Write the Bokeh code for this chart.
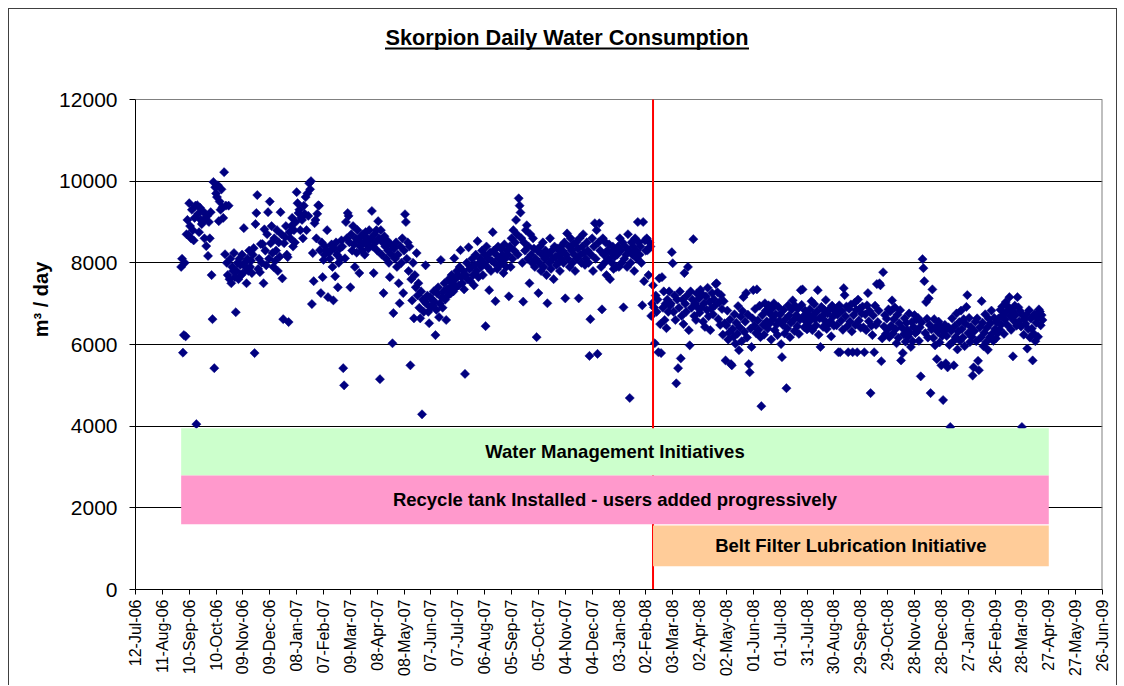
from math import pi
import pandas as pd
from bokeh.plotting import figure
from bokeh.layouts import column
from bokeh.models import ColumnDataSource, FixedTicker, Range1d
from bokeh.core.properties import value
from bokeh.embed import file_html
from bokeh.resources import INLINE

FONT = "Liberation Sans"

# ---------------- daily water consumption (m3/day), one list per month ----------------
sep06 = [7900, 8100, 5800, 6230, 8000, 6200, 8700, 9050, 8680, 9460, 8900, 8600, 9300, 8800, 8550, 9100, 9400, 4050, 9410, 9200, 8750, 9350, 9050, 8950, 9000, 9250, 8600, 9100, 8410, 9150]
oct06 = [8170, 9000, 8600, 9240, 7700, 6620, 9980, 5420, 9850, 9700, 9610, 9900, 9020, 9500, 9300, 9800, 9360, 9100, 10220, 8210, 9400, 8000, 7700, 9400, 7600, 8100, 7500, 7900, 7800, 8240, 7650]
nov06 = [6790, 7800, 8000, 7600, 8100, 7950, 7700, 8200, 7750, 8850, 8000, 7900, 7500, 8100, 7800, 8300, 7900, 8050, 7750, 8200, 8360, 5790, 8950, 9220, 9660, 7850, 8100, 7770, 8460, 8000]
dec06 = [8460, 7500, 8820, 8300, 7940, 8700, 9240, 8100, 9500, 8480, 8900, 8240, 7900, 8600, 8050, 8300, 8800, 7800, 8500, 8150, 9240, 8700, 7620, 6620, 8480, 8630, 8900, 8200, 8140, 6550, 8750]
jan07 = [8600, 8900, 9100, 8400, 8800, 8500, 9000, 9730, 9460, 9220, 9300, 8800, 9100, 9050, 8600, 9400, 9200, 9610, 8800, 9700, 9150, 9950, 9800, 10000, 6990, 8240, 7550, 8970, 9050, 8600, 9200]
feb07 = [9410, 9400, 8310, 7260, 8500, 7650, 8070, 8200, 8400, 8300, 8800, 7160, 8250, 8100, 8310, 8450, 7900, 7080, 8350, 7670, 8500, 8200, 7400, 8000, 8350, 8100, 8550, 8400]
mar07 = [5420, 5000, 8110, 9000, 8600, 9220, 9150, 8500, 7400, 8700, 8300, 8900, 8450, 7900, 8600, 8250, 8800, 8550, 7750, 8400, 8650, 8300, 8700, 8500, 8200, 8750, 8450, 8600, 8350, 8800, 8550]
apr07 = [8600, 9270, 8400, 7750, 8700, 8500, 8800, 8300, 9020, 8600, 5150, 8800, 8200, 8500, 7260, 8650, 8400, 8100, 8550, 8300, 8000, 7650, 8450, 8200, 6030, 6770, 8350, 8100, 8500, 7900]
may07 = [8200, 7500, 7010, 8400, 8000, 8600, 7260, 8300, 9190, 9000, 8100, 8500, 7800, 8400, 5490, 7600, 7080, 8000, 6640, 7700, 7400, 8240, 7200, 7500, 6900, 6640, 7300, 4290, 7100, 6800, 7050]
jun07 = [7940, 7000, 7200, 6800, 6520, 7160, 6910, 7100, 6950, 7300, 7050, 6230, 6850, 7250, 7400, 6670, 7000, 8070, 7150, 6900, 7300, 7500, 7100, 6600, 7350, 7200, 7600, 7400, 7250, 7700]
jul07 = [7500, 7300, 8110, 7600, 7400, 7800, 7700, 7450, 7900, 8310, 7650, 7500, 7800, 7350, 5280, 7700, 8000, 7600, 8380, 7850, 7550, 7900, 8100, 7700, 7450, 7950, 8200, 7800, 8530, 7650, 8000]
aug07 = [8100, 7900, 8300, 7700, 8000, 8200, 6450, 8400, 7900, 8100, 7330, 8250, 7800, 8050, 8750, 8300, 8000, 7060, 8200, 7850, 8400, 8100, 7950, 8350, 8000, 8200, 7750, 8450, 8100, 7900, 8300]
sep07 = [8200, 7180, 8400, 7900, 8600, 8100, 8800, 8300, 8500, 9050, 8700, 8200, 9580, 9400, 9230, 8600, 8000, 7050, 8500, 8300, 8800, 8920, 8100, 8400, 7500, 8700, 8200, 8000, 8600, 8350]
oct07 = [7900, 8100, 6180, 8300, 7260, 8000, 8400, 7800, 8200, 8500, 7900, 8100, 8300, 7700, 7010, 8200, 8000, 8600, 7850, 8300, 8100, 7600, 8400, 8150, 7950, 8350, 8000, 8200, 7800, 8400, 8100]
nov07 = [8300, 8000, 8500, 7130, 8200, 8720, 8100, 8400, 7900, 8600, 8300, 8000, 8450, 8200, 7800, 8500, 8100, 8350, 7130, 8600, 8200, 8000, 8400, 8700, 8250, 7950, 8100, 8500, 8300, 8000]
dec07 = [5720, 6620, 8200, 8600, 7800, 8400, 8970, 8100, 8800, 5770, 8500, 8970, 8300, 7900, 6860, 8600, 8200, 8000, 8500, 7700, 8300, 8100, 8450, 7600, 8250, 8000, 8400, 7850, 8150, 8300, 7900]
jan08 = [8200, 8400, 7900, 8600, 8300, 8000, 8500, 6910, 8100, 8400, 8200, 7900, 8700, 8300, 4690, 8000, 8500, 8200, 8400, 7800, 8600, 8300, 8100, 9000, 8500, 8200, 8400, 8000, 6960, 9000, 7550]
feb08 = [8550, 8300, 8600, 8310, 7700, 8500, 8400, 6700, 7000, 7450, 6910, 6030, 7200, 6800, 7100, 5810, 7620, 6500, 5790, 7650, 6900, 7300, 6600, 7000, 6400, 7100, 6800, 7300, 6950]
mar08 = [7000, 8260, 7990, 6800, 7200, 6600, 5050, 7100, 5420, 6900, 7300, 5660, 6700, 7100, 6500, 7750, 7000, 6800, 7200, 7900, 6350, 5980, 7300, 6900, 7100, 8580, 6700, 7000, 6600, 7250, 6900]
apr08 = [7120, 6780, 7340, 6910, 7230, 6560, 7010, 6430, 7180, 6850, 7390, 6690, 7050, 6350, 6880, 7260, 6740, 7110, 6950, 7480, 7500, 7280, 6620, 7030, 6480, 7210, 6870, 6240, 7060, 6520]
may08 = [5610, 6470, 6830, 6120, 6290, 6610, 5520, 5490, 6380, 6190, 6740, 6020, 6530, 6260, 6940, 5860, 6420, 6680, 6080, 6820, 7160, 6310, 6560, 7260, 6170, 6730, 5520, 5320, 6390, 5940, 6640]
jun08 = [7330, 6460, 6870, 6280, 7350, 6590, 6360, 6950, 6180, 4490, 6720, 6480, 6240, 7010, 6830, 6570, 6390, 6960, 6510, 6750, 6120, 6880, 6620, 7010, 6350, 6740, 6490, 6230, 6920, 6580]
jul08 = [6740, 6010, 5690, 6480, 6850, 6270, 6620, 4930, 6390, 6960, 6710, 6180, 6530, 6860, 7080, 6600, 6330, 6940, 6720, 6450, 6880, 6260, 6610, 7330, 6970, 7350, 6690, 6420, 6830, 6560, 6370]
aug08 = [6720, 6440, 6860, 6590, 7060, 6350, 6730, 6990, 6620, 6470, 6810, 7330, 6240, 6640, 5940, 6920, 6700, 6430, 6850, 6580, 7090, 6380, 6760, 6510, 6870, 6570, 6200, 6950, 6680, 6460, 6820]
sep08 = [6840, 6470, 6730, 5810, 6960, 5810, 6580, 6820, 6360, 7380, 7210, 6690, 6930, 6450, 5810, 6870, 6560, 6980, 6320, 5810, 6720, 7020, 6480, 6850, 5810, 7100, 6590, 6880, 6410, 6760]
oct08 = [6930, 6420, 5810, 6740, 6350, 6960, 7260, 6570, 6820, 4810, 6460, 6230, 6710, 5810, 6950, 6480, 7480, 6550, 6830, 7500, 7450, 5590, 6150, 7770, 6440, 6720, 6260, 6630, 6370, 6860, 6180]
nov08 = [6810, 6460, 7080, 6270, 6620, 6910, 6380, 6030, 6730, 6160, 6520, 6840, 5610, 6410, 5790, 6250, 6640, 6070, 6530, 6360, 6190, 6760, 6290, 5940, 6550, 6080, 6430, 6720, 6280, 6610]
dec08 = [6320, 6650, 6090, 6420, 5220, 6540, 8090, 7870, 7550, 6280, 7040, 6630, 6170, 7130, 6480, 4810, 6370, 7350, 6160, 6620, 5980, 6430, 5640, 6310, 6560, 6050, 6440, 5490, 6210, 4640, 6330]
jan09 = [6480, 5540, 6210, 5440, 6420, 5990, 3980, 6330, 6640, 6070, 5490, 6450, 6180, 6760, 5880, 6320, 6550, 6090, 6830, 6380, 6170, 6620, 5960, 6510, 6920, 7210, 6280, 6650, 6060, 6430, 6190]
feb09 = [5240, 5440, 6330, 6560, 6080, 6640, 5600, 5370, 6420, 6170, 7060, 6530, 5960, 6290, 6740, 6060, 6410, 5870, 6630, 6180, 6520, 6830, 6270, 6090, 6650, 6380, 6150, 6540]
mar09 = [6280, 6640, 6370, 6850, 6490, 6930, 6720, 6260, 6610, 7040, 6810, 6470, 6920, 7160, 6690, 6360, 6840, 5710, 6580, 6950, 6730, 6460, 7160, 6910, 6570, 6820, 6440, 3980, 6710, 6240, 6620]
apr09 = [6510, 6730, 5900, 6380, 6840, 6170, 6630, 6390, 5610, 6270, 6740, 6080, 6530, 6650, 6190, 6860, 6810, 6470, 6720, 6600]

month_starts = ["2006-09-01", "2006-10-01", "2006-11-01", "2006-12-01", "2007-01-01", "2007-02-01",
                "2007-03-01", "2007-04-01", "2007-05-01", "2007-06-01", "2007-07-01", "2007-08-01",
                "2007-09-01", "2007-10-01", "2007-11-01", "2007-12-01", "2008-01-01", "2008-02-01",
                "2008-03-01", "2008-04-01", "2008-05-01", "2008-06-01", "2008-07-01", "2008-08-01",
                "2008-09-01", "2008-10-01", "2008-11-01", "2008-12-01", "2009-01-01", "2009-02-01",
                "2009-03-01", "2009-04-01"]
month_values = [sep06, oct06, nov06, dec06, jan07, feb07, mar07, apr07, may07, jun07, jul07, aug07,
                sep07, oct07, nov07, dec07, jan08, feb08, mar08, apr08, may08, jun08, jul08, aug08,
                sep08, oct08, nov08, dec08, jan09, feb09, mar09, apr09]

tick_labels = ["12-Jul-06", "11-Aug-06", "10-Sep-06", "10-Oct-06", "09-Nov-06", "09-Dec-06",
               "08-Jan-07", "07-Feb-07", "09-Mar-07", "08-Apr-07", "08-May-07", "07-Jun-07",
               "07-Jul-07", "06-Aug-07", "05-Sep-07", "05-Oct-07", "04-Nov-07", "04-Dec-07",
               "03-Jan-08", "02-Feb-08", "03-Mar-08", "02-Apr-08", "02-May-08", "01-Jun-08",
               "01-Jul-08", "31-Jul-08", "30-Aug-08", "29-Sep-08", "29-Oct-08", "28-Nov-08",
               "28-Dec-08", "27-Jan-09", "26-Feb-09", "28-Mar-09", "27-Apr-09", "27-May-09",
               "26-Jun-09"]
y_ticks = [0, 2000, 4000, 6000, 8000, 10000, 12000]

title_text = "Skorpion Daily Water Consumption"
y_label = "m³ / day"

# event marker and initiative bands
event_date = "2008-02-10"
band_start = "2006-09-01"
band_end = "2009-04-27"
band_labels = ["Water Management Initiatives",
               "Recycle tank Installed - users added progressively",
               "Belt Filter Lubrication Initiative"]
band_bottoms = [2790, 1600, 570]
band_tops = [3950, 2790, 1570]
band_colors = ["#CCFFCC", "#FF99CC", "#FFCC99"]


def ms(d):
    return pd.Timestamp(d).value / 1e6


xs, ys = [], []
for start, vals in zip(month_starts, month_values):
    days = pd.date_range(start, periods=len(vals), freq="D")
    xs.extend(d.value / 1e6 for d in days)
    ys.extend(vals)

tick_ms = [pd.to_datetime(t, format="%d-%b-%y").value / 1e6 for t in tick_labels]
x0, x1 = tick_ms[0], tick_ms[-1]
y_max = y_ticks[-1]

# ---------------- layout geometry (pixels) ----------------
W, H = 1107, 676
ML, MR, MT, MB = 126, 14, 0, 96
FW, FH = W - ML - MR, H - MT - MB          # frame size
PLOT_H = 490                                # height of the 0..12000 data area
y_top = y_max * FH / PLOT_H                  # frame extends above 12000 to hold the title


def px_x(px):   # frame pixel (from left) -> x data
    return x0 + (x1 - x0) * px / FW


def px_y(py):   # frame pixel (from top) -> y data
    return y_top * (FH - py) / FH


p = figure(width=W, height=H, output_backend="svg", toolbar_location=None,
           x_range=Range1d(x0, x1), y_range=Range1d(0, y_top),
           min_border_left=ML, min_border_right=MR, min_border_top=MT, min_border_bottom=MB)
p.background_fill_color = "white"
p.border_fill_color = "white"
p.outline_line_color = None

p.xgrid.visible = False
p.ygrid.ticker = FixedTicker(ticks=y_ticks[1:-1])
p.ygrid.grid_line_color = "black"
p.ygrid.grid_line_width = 1

p.yaxis.ticker = FixedTicker(ticks=y_ticks)
p.yaxis.bounds = (0, y_max)
p.yaxis.minor_tick_line_color = None
p.yaxis.major_tick_out = 6
p.yaxis.major_tick_in = 0
p.yaxis.major_label_standoff = 12
p.yaxis.major_label_text_font = FONT
p.yaxis.major_label_text_font_size = "21px"
p.yaxis.major_label_text_color = "black"
p.yaxis.axis_line_color = "black"
p.yaxis.major_tick_line_color = "black"
p.yaxis.axis_label = y_label
p.yaxis.axis_label_text_font = FONT
p.yaxis.axis_label_text_font_size = "20px"
p.yaxis.axis_label_text_font_style = "bold"
p.yaxis.axis_label_text_color = "black"
p.yaxis.axis_label_standoff = 4

p.xaxis.ticker = FixedTicker(ticks=tick_ms)
p.xaxis.major_label_overrides = dict(zip(tick_ms, tick_labels))
p.xaxis.major_label_orientation = pi / 2
p.xaxis.minor_tick_line_color = None
p.xaxis.major_tick_out = 5
p.xaxis.major_tick_in = 0
p.xaxis.major_label_standoff = 5
p.xaxis.major_label_text_font = FONT
p.xaxis.major_label_text_font_size = "16px"
p.xaxis.major_label_text_color = "black"
p.xaxis.axis_line_color = "black"
p.xaxis.major_tick_line_color = "black"

# plot-area border (top at 12000 and right side), grey like the original
p.segment(x0=[x0, x1], y0=[y_max, 0], x1=[x1, x1], y1=[y_max, y_max],
          line_color="#808080", line_width=[1, 2])

src = ColumnDataSource(dict(x=xs, y=ys))
p.scatter("x", "y", source=src, marker="square", angle=pi / 4, size=6.5,
          fill_color="#000080", line_color="#000080", line_width=0.5)

ev = ms(event_date)
p.segment(x0=[ev], y0=[0], x1=[ev], y1=[y_max], line_color="#FF0000", line_width=2)

lefts = [ms(band_start), ms(band_start), ev]
rights = [ms(band_end)] * 3
p.quad(left=lefts, right=rights, bottom=band_bottoms, top=band_tops,
       fill_color=band_colors, line_color=None)
p.text(x=[(l + r) / 2 for l, r in zip(lefts, rights)],
       y=[(b + t) / 2 for b, t in zip(band_bottoms, band_tops)],
       text=band_labels, text_font=value(FONT), text_font_style="bold",
       text_font_size="18.5px", text_align="center", text_baseline="middle",
       text_color="black")

# chart title with underline (placed in the frame area above the 12000 line)
p.text(x=[px_x(431.5)], y=[px_y(27.5)], text=[title_text], text_font=value(FONT),
       text_font_style="bold", text_font_size="21.7px", text_align="center",
       text_baseline="middle", text_color="black")
p.segment(x0=[px_x(249.5)], y0=[px_y(39)], x1=[px_x(613.5)], y1=[px_y(39)],
          line_color="black", line_width=2)

layout = column(p, styles={"border": "1.5px solid #404040", "border-bottom": "none",
                           "margin": "8px 0 0 8px"})

open("out.html", "w").write(file_html(layout, INLINE))
